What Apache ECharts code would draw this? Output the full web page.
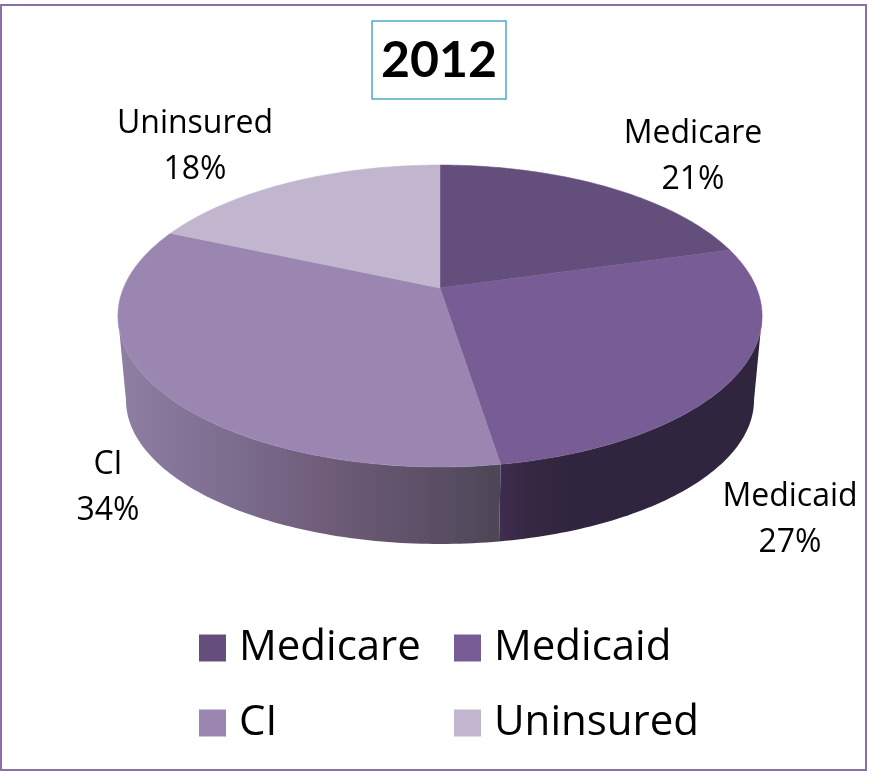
<!DOCTYPE html>
<html>
<head>
<meta charset="utf-8">
<style>
html,body{margin:0;padding:0;background:#fff}
#chart{width:869px;height:771px}
</style>
<script src="https://cdn.jsdelivr.net/npm/echarts@6/dist/echarts.min.js"></script>
</head>
<body>
<div id="chart"></div>
<script>
const chartTitle = '2012';
const categories = ['Medicare', 'Medicaid', 'CI', 'Uninsured'];
const values = [20.6, 26.9, 34.1, 18.4];

const topColors = ['#644E7B', '#775C96', '#9A86B0', '#C1B6CE'];
const wallStops = {
    Medicaid: [[0, '#3F2C4F'], [0.12, '#352841'], [0.3, '#30253E'], [1, '#30253E']],
    CI: [[0, '#8F7FA3'], [0.3, '#7C6C8E'], [0.55, '#6E5C78'], [0.8, '#5D5067'], [1, '#4D4656']]
};
const labelSpots = [[693, 157], [790, 520], [108, 488], [195, 147]];

// perspective pie, 0 deg = back of the pie, going clockwise
const apexX = 440, apexY = 288, radiusX = 316.5, spreadY = 92.4, persp = -0.1854;
const midY = 316, lowMidY = 400, lowScaleX = 0.975, lowScaleY = 144 / 151;
const wallFrom = 100.7, wallTo = 259.3;

function topPoint(deg) {
    let a = deg * Math.PI / 180, X = Math.sin(a), Y = -Math.cos(a), w = 1 + persp * Y;
    return [apexX + radiusX * X / w, (apexY + spreadY * Y) / w];
}
function lowPoint(deg) {
    let p = topPoint(deg);
    return [apexX + (p[0] - apexX) * lowScaleX, lowMidY + (p[1] - midY) * lowScaleY];
}
function arc(fn, from, to) {
    let pts = [], n = Math.max(2, Math.ceil(Math.abs(to - from)));
    for (let i = 0; i <= n; i++) pts.push(fn(from + (to - from) * i / n));
    return pts;
}

const total = values.reduce((a, b) => a + b, 0);

function renderSlice(idx) {
    return function () {
        let start = values.slice(0, idx).reduce((a, b) => a + b, 0) / total * 360;
        let end = start + values[idx] / total * 360;
        let kids = [];

        let from = Math.max(start, wallFrom), to = Math.min(end, wallTo);
        if (to > from && wallStops[categories[idx]]) {
            let top = arc(topPoint, from, to), low = arc(lowPoint, to, from);
            let xs = top.concat(low).map(p => p[0]);
            let x0 = Math.min.apply(null, xs), x1 = Math.max.apply(null, xs);
            let stops = wallStops[categories[idx]].map(s => ({offset: s[0], color: s[1]}));
            let fill = new echarts.graphic.LinearGradient(x0, 0, x1, 0, stops, true);
            kids.push({type: 'polygon', shape: {points: top.concat(low)}, style: {fill: fill}});
        }

        let face = [[apexX, apexY]].concat(arc(topPoint, start, end));
        kids.push({
            type: 'polygon',
            shape: {points: face},
            style: {fill: topColors[idx], stroke: topColors[idx], lineWidth: 0.5}
        });
        kids.push({
            type: 'text',
            x: labelSpots[idx][0],
            y: labelSpots[idx][1],
            style: {
                text: categories[idx] + '\n' + Math.round(values[idx]) + '%',
                font: '32px "Open Sans"',
                lineHeight: 46,
                fill: '#000',
                align: 'center',
                verticalAlign: 'middle'
            }
        });
        return {type: 'group', children: kids};
    };
}

const myChart = echarts.init(document.getElementById('chart'));

const legendBase = {
    orient: 'vertical',
    icon: 'rect',
    itemWidth: 27,
    itemHeight: 27,
    itemGap: 33,
    padding: 0,
    selectedMode: false,
    textStyle: {fontFamily: 'Open Sans', fontSize: 42, color: '#000', padding: [3, 0, 0, 8]}
};

myChart.setOption({
    animation: false,
    backgroundColor: '#fff',
    title: {
        text: chartTitle,
        left: 372,
        top: 21,
        padding: [15, 9, 13, 9],
        borderColor: '#4BACC6',
        borderWidth: 1.5,
        textStyle: {fontFamily: 'Lato', fontSize: 50, fontWeight: 'bold', color: '#000'}
    },
    legend: [
        Object.assign({}, legendBase, {left: 199, top: 627, data: ['Medicare', 'CI']}),
        Object.assign({}, legendBase, {left: 454, top: 627, data: ['Medicaid', 'Uninsured']})
    ],
    graphic: [{
        type: 'rect',
        silent: true,
        z: -1,
        shape: {x: 1, y: 5, width: 865, height: 765},
        style: {fill: 'none', stroke: '#8B70A8', lineWidth: 2}
    }],
    series: categories.map((name, i) => ({
        type: 'custom',
        name: name,
        coordinateSystem: 'none',
        itemStyle: {color: topColors[i]},
        data: [values[i]],
        renderItem: renderSlice(i)
    }))
});
</script>
</body>
</html>
